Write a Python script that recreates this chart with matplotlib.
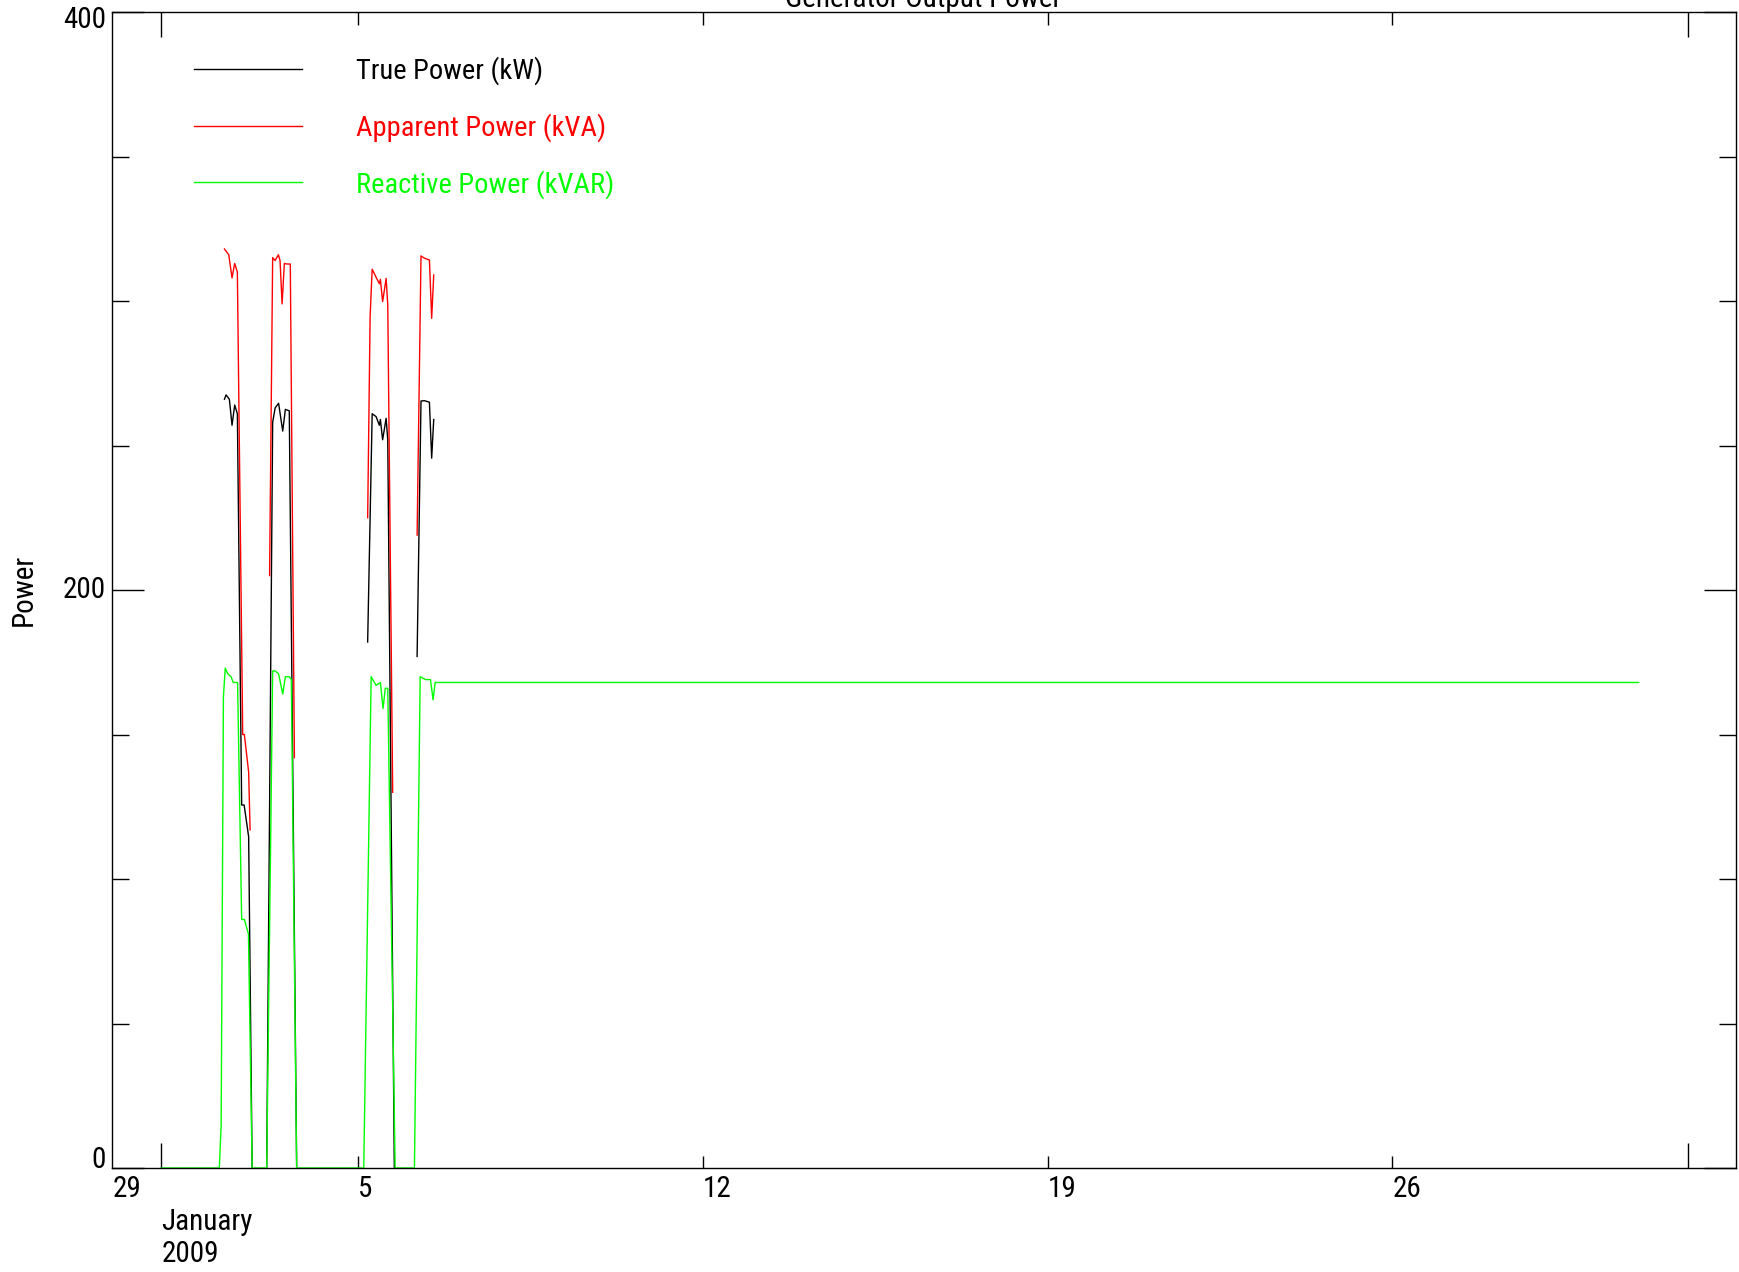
import matplotlib
matplotlib.use('Agg')
import matplotlib.pyplot as plt
import matplotlib.dates as mdates
import matplotlib.ticker as mticker
from matplotlib import font_manager
import pandas as pd

# the chart uses a narrow Helvetica; use a condensed face when one is installed
narrow = None
for f in font_manager.fontManager.ttflist:
    tag = (f.name + ' ' + str(f.stretch) + ' ' + f.fname).lower()
    if ('narrow' in tag or 'condensed' in tag) and 'mono' not in tag and 'serif' not in f.name.lower():
        if narrow is None or 'liberation' in f.name.lower() or 'roboto' in f.name.lower():
            narrow = f
if narrow is not None:
    plt.rcParams['font.family'] = [narrow.name, 'DejaVu Sans']
    plt.rcParams['font.stretch'] = narrow.stretch
    fs, fs_leg = 21, 20.5
else:
    plt.rcParams['font.family'] = ['Liberation Sans', 'DejaVu Sans']
    fs, fs_leg = 19.5, 18.5
plt.rcParams['font.size'] = fs

nan = float('nan')
start = pd.Timestamp('2009-01-01')

# hours after 2009-01-01 00:00, nan = no reading
true_hours = [30.8, 31.6, 33.2, 34.5, 35.8, 37.1, 39.2, 40.4, 42.6, 44.3, 47.0,
              51.4, 54.3, 55.5, 57.2, 59.2, 60.5, 62.4, 66.0, 80.0,
              100.6, 102.8, 104.7, 106.3, 106.8, 107.9, 109.6, 110.4, 113.6, 118.0,
              124.7, 126.6, 128.3, 130.7, 131.8, 132.8]
true_kw = [266, 267.5, 266, 257, 264, 261, 125.6, 125.6, 114.6, 0, nan,
           0, 258, 263, 264.6, 255, 262.5, 262, 0, nan,
           182, 261, 260, 257, 259, 252, 259.4, 252, 0, nan,
           177, 265.4, 265.5, 265, 245.6, 259]

apparent_hours = [30.8, 32.9, 34.5, 35.8, 37.1, 39.7, 40.5, 42.6, 43.3, 47.0,
                  52.8, 54.3, 55.5, 57.1, 57.9, 58.9, 60.0, 61.1, 62.9, 64.9, 80.0,
                  100.6, 101.8, 102.8, 105.0, 106.3, 106.8, 107.9, 109.6, 110.4, 112.8, 118.0,
                  124.7, 126.6, 128.3, 130.7, 131.8, 132.8]
apparent_kva = [318, 316, 308, 313, 310, 150, 150, 137, 117, nan,
                205, 315, 314, 316, 314, 299, 313, 312.8, 312.8, 142, nan,
                225, 294.6, 311, 307.8, 306, 307.5, 299.8, 307.8, 298.6, 130, nan,
                219, 315.6, 314.8, 314.2, 294, 309]

reactive_hours = [0, 28.3, 29.2, 30.3, 31.2, 32.4, 34.0, 35.1, 37.2, 39.2,
                  40.5, 42.5, 44.3, 51.4, 54.3, 55.5, 57.2, 59.2, 60.5, 62.4,
                  63.4, 66.0, 98.7, 102.3, 104.7, 106.8, 108.1, 109.2, 110.4, 114.0,
                  123.4, 126.2, 128.8, 131.2, 132.5, 133.5, 720]
reactive_kvar = [0, 0, 15, 163, 173, 171, 170, 168, 168, 86,
                 86, 81, 0, 0, 172, 172, 171, 164, 170, 170,
                 169, 0, 0, 170, 167, 168, 159, 166, 166, 0,
                 0, 170, 169, 169, 162, 168, 168]

week_ticks = ['2009-01-05', '2009-01-12', '2009-01-19', '2009-01-26']
month_ticks = ['2009-01-01', '2009-02-01']
y_labels = [0, 200, 400]
y_label_shift = [6.0, 0, -6.0]


def to_time(hours):
    return start + pd.to_timedelta(hours, unit='h')


fig = plt.figure(figsize=(17.39, 12.72), dpi=100)
ax = fig.add_axes([112 / 1739, 104 / 1272, 1624 / 1739, 1156 / 1272])

ax.plot(to_time(true_hours), true_kw, color='black', lw=1.0, label='True Power (kW)')
ax.plot(to_time(apparent_hours), apparent_kva, color='red', lw=1.0, label='Apparent Power (kVA)')
ax.plot(to_time(reactive_hours), reactive_kvar, color='#00ff00', lw=1.0, label='Reactive Power (kVAR)')

ax.set_xlim(pd.Timestamp('2008-12-31 00:00'), pd.Timestamp('2009-02-01 23:30'))
ax.set_ylim(0, 400)

ax.xaxis.set_major_locator(mticker.FixedLocator(mdates.date2num(pd.to_datetime(week_ticks))))
ax.xaxis.set_major_formatter(mticker.FuncFormatter(lambda v, p: str(mdates.num2date(v).day)))
ax.xaxis.set_minor_locator(mticker.FixedLocator(mdates.date2num(pd.to_datetime(month_ticks))))
ax.set_yticks(y_labels)
ax.yaxis.set_minor_locator(mticker.MultipleLocator(50))

ax.tick_params(axis='x', which='major', direction='in', length=9, width=1, top=True, bottom=True, pad=5.0)
ax.tick_params(axis='x', which='minor', direction='in', length=18, width=1, top=True, bottom=True)
ax.tick_params(axis='y', which='major', direction='in', length=23, width=1, left=True, right=True, labelleft=False)
ax.tick_params(axis='y', which='minor', direction='in', length=12, width=1, left=True, right=True)
for lab in ax.get_xticklabels():
    lab.set_horizontalalignment('left')

for val, dy in zip(y_labels, y_label_shift):
    ax.annotate(str(val), xy=(0, val), xycoords=('axes fraction', 'data'),
                xytext=(-4.5, dy), textcoords='offset points', ha='right', va='center')

# week label before the left edge, and month/year under Jan 1
ax.annotate('29', xy=(0, 0), xycoords='axes fraction', xytext=(0.5, -5.0),
            textcoords='offset points', ha='left', va='top')
ax.annotate('January\n2009', xy=(mdates.date2num(pd.Timestamp(month_ticks[0])), 0),
            xycoords=('data', 'axes fraction'), xytext=(0, -28.5), textcoords='offset points',
            ha='left', va='top', linespacing=1.18)

for s in ax.spines.values():
    s.set_linewidth(1.0)

fig.text(24 / 1739, 1 - 590 / 1272, 'Power', rotation=90, ha='center', va='center')
fig.text(923 / 1739, 1 - 7 / 1272, 'Generator Output Power', ha='center', va='baseline')

ax.legend(loc='upper left', bbox_to_anchor=(0.0505, 0.9615), frameon=False, fontsize=fs_leg,
          handlelength=3.7 * 21 / fs_leg, handletextpad=1.85 * 21 / fs_leg,
          labelspacing=0.96 * 21 / fs_leg,
          borderpad=0, borderaxespad=0, labelcolor='linecolor')

fig.savefig('out.png', dpi=100)
